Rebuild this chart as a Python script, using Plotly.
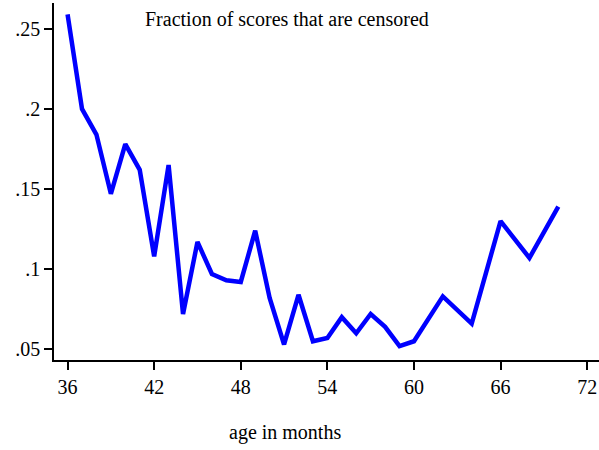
import plotly.graph_objects as go

# Share of censored scores by child age (months)
age_months = [36, 37, 38, 39, 40, 41, 42, 43, 44, 45, 46, 47, 48, 49, 50,
              51, 52, 53, 54, 55, 56, 57, 58, 59, 60, 62, 64, 66, 68, 70]
censored_share = [0.259, 0.200, 0.184, 0.147, 0.178, 0.162, 0.108, 0.165,
                  0.072, 0.117, 0.097, 0.093, 0.092, 0.124, 0.082, 0.053,
                  0.084, 0.055, 0.057, 0.070, 0.060, 0.072, 0.064, 0.052,
                  0.055, 0.083, 0.066, 0.130, 0.107, 0.139]

x_ticks = [36, 42, 48, 54, 60, 66, 72]
y_ticks = [0.05, 0.10, 0.15, 0.20, 0.25]
y_tick_labels = [".05", ".1", ".15", ".2", ".25"]

FONT = "Liberation Serif, Times New Roman, serif"

fig = go.Figure()
fig.add_trace(go.Scatter(
    x=age_months, y=censored_share, mode="lines",
    line=dict(color="#0000FF", width=4.5),
    hoverinfo="skip", showlegend=False,
))

fig.update_layout(
    width=599, height=450,
    margin=dict(l=54, r=0, t=3, b=90),
    paper_bgcolor="white", plot_bgcolor="white",
    font=dict(family=FONT, size=20, color="black"),
    xaxis=dict(
        range=[35.06, 72.82], tickvals=x_ticks,
        ticktext=[str(t) for t in x_ticks],
        showgrid=False, zeroline=False,
        showline=True, linecolor="black", linewidth=1.5,
        ticks="outside", ticklen=8, tickwidth=1.5, tickcolor="black",
        tickfont=dict(family=FONT, size=20, color="black"),
    ),
    yaxis=dict(
        range=[0.0433, 0.2661], tickvals=y_ticks, ticktext=y_tick_labels,
        showgrid=False, zeroline=False,
        showline=True, linecolor="black", linewidth=1.5,
        ticks="outside", ticklen=8, tickwidth=1.5, tickcolor="black",
        tickfont=dict(family=FONT, size=20, color="black"),
    ),
    annotations=[
        dict(text="Fraction of scores that are censored",
             xref="paper", yref="paper", x=0.4284, y=0.954,
             xanchor="center", yanchor="middle", showarrow=False,
             font=dict(family=FONT, size=20, color="black")),
        dict(text="age in months",
             xref="paper", yref="paper", x=0.423, y=-0.204,
             xanchor="center", yanchor="middle", showarrow=False,
             font=dict(family=FONT, size=20, color="black")),
    ],
)

fig.write_html("out.html")
